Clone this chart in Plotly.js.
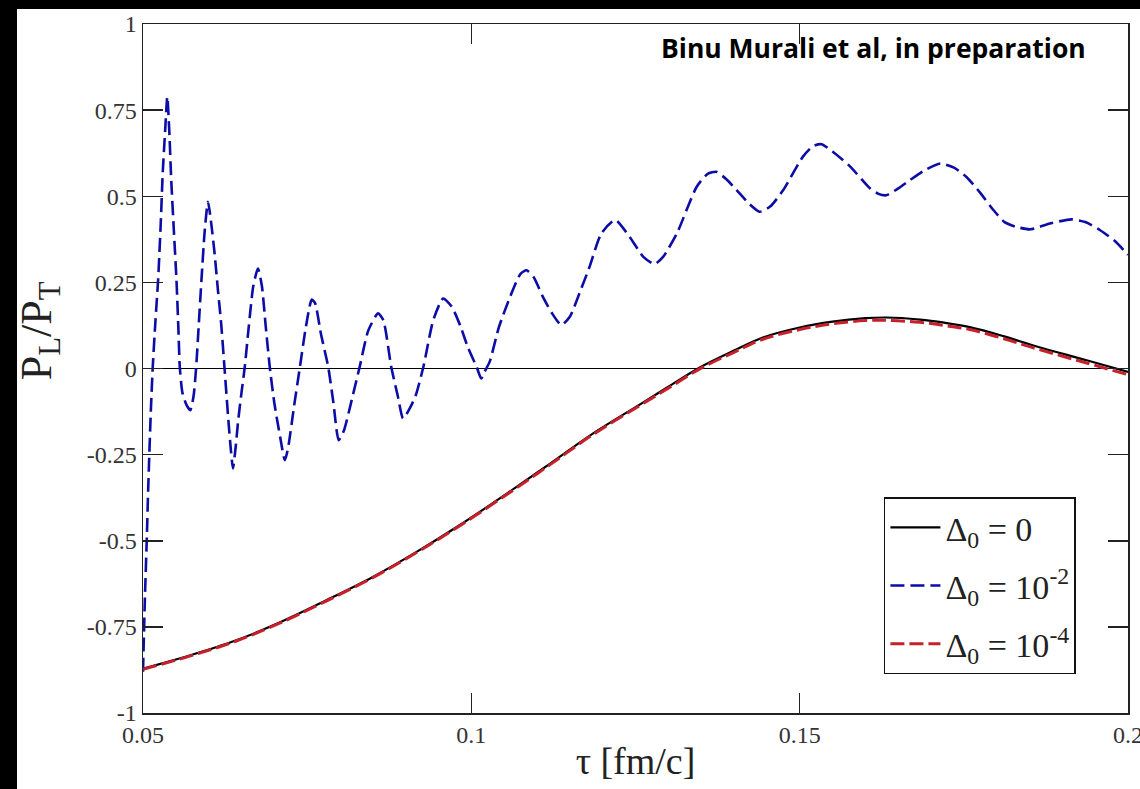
<!DOCTYPE html>
<html><head><meta charset="utf-8">
<script src="https://cdn.plot.ly/plotly-3.0.1.min.js"></script>
<style>html,body{margin:0;padding:0;background:#fff;width:1140px;height:789px;overflow:hidden}
#chart{position:absolute;left:0;top:0;width:1140px;height:789px;background:#fff}
.band{position:absolute;background:#000;z-index:5}
.cover{position:absolute;background:#fff;z-index:4}</style>
</head><body><div id="chart"></div>
<div class="cover" style="left:1130px;top:9px;width:10px;height:708px"></div>
<div class="band" style="left:0;top:0;width:17px;height:789px"></div>
<div class="band" style="left:0;top:0;width:1140px;height:9px"></div>
<script>
// tau values for the smooth curves (Delta0 = 0 and Delta0 = 1e-4)
const tauSmooth = [0.0500,0.0571,0.0642,0.0713,0.0779,0.0850,0.0916,0.0982,0.1054,0.1120,0.1185,0.1257,0.1300,0.1348,0.1400,0.1444,0.1500,0.1550,0.1600,0.1632,0.1683,0.1720,0.1759,0.1810,0.1861,0.1937,0.2000];
const ratioDelta0 = [-0.871,-0.833,-0.789,-0.733,-0.673,-0.605,-0.533,-0.455,-0.363,-0.276,-0.189,-0.104,-0.053,0.003,0.052,0.090,0.119,0.136,0.146,0.148,0.142,0.133,0.120,0.094,0.064,0.024,-0.010];
const ratioDelta4 = [-0.873,-0.835,-0.791,-0.735,-0.675,-0.607,-0.535,-0.457,-0.366,-0.279,-0.192,-0.107,-0.057,-0.001,0.047,0.085,0.113,0.130,0.139,0.140,0.134,0.125,0.113,0.087,0.057,0.016,-0.018];
// tau values and ratio for Delta0 = 1e-2
const tauOsc = [0.0500,0.0503,0.0506,0.0508,0.0512,0.0515,0.0519,0.0523,0.0527,0.0530,0.0534,0.0537,0.0540,0.0543,0.0547,0.0551,0.0554,0.0556,0.0560,0.0566,0.0572,0.0577,0.0581,0.0585,0.0589,0.0594,0.0599,0.0604,0.0609,0.0614,0.0619,0.0624,0.0630,0.0634,0.0637,0.0641,0.0645,0.0650,0.0655,0.0661,0.0668,0.0675,0.0681,0.0687,0.0693,0.0700,0.0709,0.0716,0.0721,0.0730,0.0739,0.0748,0.0757,0.0762,0.0771,0.0782,0.0790,0.0798,0.0806,0.0818,0.0830,0.0843,0.0858,0.0866,0.0878,0.0888,0.0896,0.0905,0.0915,0.0927,0.0942,0.0957,0.0970,0.0984,0.0995,0.1008,0.1015,0.1020,0.1028,0.1042,0.1059,0.1075,0.1084,0.1095,0.1109,0.1123,0.1137,0.1150,0.1165,0.1180,0.1198,0.1219,0.1241,0.1262,0.1279,0.1292,0.1313,0.1343,0.1360,0.1373,0.1388,0.1404,0.1422,0.1439,0.1455,0.1475,0.1505,0.1520,0.1533,0.1550,0.1577,0.1607,0.1620,0.1632,0.1648,0.1668,0.1690,0.1714,0.1735,0.1754,0.1775,0.1795,0.1812,0.1830,0.1851,0.1881,0.1914,0.1935,0.1957,0.1980,0.2000];
const ratioDelta2 = [-0.880,-0.660,-0.480,-0.344,-0.120,0.010,0.140,0.256,0.420,0.566,0.700,0.789,0.690,0.547,0.400,0.256,0.110,0.005,-0.070,-0.105,-0.121,-0.080,0.005,0.130,0.256,0.400,0.484,0.420,0.334,0.230,0.131,0.005,-0.150,-0.240,-0.290,-0.230,-0.150,-0.070,0.005,0.120,0.240,0.290,0.240,0.120,0.005,-0.100,-0.200,-0.266,-0.230,-0.110,0.005,0.120,0.200,0.190,0.100,0.005,-0.100,-0.208,-0.180,-0.090,0.005,0.110,0.160,0.140,0.005,-0.080,-0.145,-0.120,-0.080,0.005,0.140,0.203,0.180,0.120,0.060,0.005,-0.029,-0.010,0.020,0.120,0.208,0.275,0.285,0.265,0.208,0.160,0.126,0.150,0.220,0.295,0.392,0.431,0.382,0.324,0.303,0.324,0.392,0.527,0.565,0.571,0.550,0.518,0.480,0.455,0.470,0.518,0.615,0.645,0.651,0.630,0.586,0.523,0.507,0.503,0.520,0.547,0.575,0.595,0.583,0.556,0.510,0.460,0.425,0.411,0.404,0.421,0.433,0.425,0.402,0.370,0.330];

const seriesNames = ["Δ<sub>0</sub> = 0", "Δ<sub>0</sub> = 10<sup>-2</sup>", "Δ<sub>0</sub> = 10<sup>-4</sup>"];
const yTickVals = [-1,-0.75,-0.5,-0.25,0,0.25,0.5,0.75,1];
const yTickText = ["-1","-0.75","-0.5","-0.25","0","0.25","0.5","0.75","1"];
const xTickVals = [0.05,0.1,0.15,0.2];
const xTickText = ["0.05","0.1","0.15","0.2"];
const xTitle = "τ [fm/c]";
const yTitle = "P<sub>L</sub>/P<sub>T</sub>";
const noteText = "Binu Murali et al, in preparation";

const serif = "Liberation Serif";
const xRange = [0.05, 0.2];
const yRange = [-1, 1];

const traces = [
  {x: tauSmooth, y: ratioDelta0, name: seriesNames[0], legendgroup: "g0", mode: "lines",
   line: {color: "#000000", width: 2.2, shape: "spline", smoothing: 1}},
  {x: tauOsc, y: ratioDelta2, name: seriesNames[1], legendgroup: "g2", mode: "lines",
   line: {color: "#0c0ca6", width: 2.6, dash: "14px,6px", shape: "spline", smoothing: 0.6}},
  {x: tauSmooth, y: ratioDelta4, name: seriesNames[2], legendgroup: "g4", mode: "lines",
   line: {color: "#c8202a", width: 3, dash: "14px,5px", shape: "spline", smoothing: 1}}
];

const layout = {
  width: 1140, height: 789,
  margin: {l: 143, r: 12, t: 24, b: 76},
  paper_bgcolor: "#ffffff", plot_bgcolor: "#ffffff",
  showlegend: true,
  xaxis: {
    range: xRange, tickmode: "array", tickvals: xTickVals, ticktext: xTickText,
    showline: true, linecolor: "#222", linewidth: 1.5, mirror: "ticks",
    ticks: "inside", ticklen: 20, tickwidth: 1.5, tickcolor: "#222",
    showgrid: false, zeroline: false, ticklabeloverflow: "allow",
    tickfont: {family: serif, size: 24, color: "#333"},
    title: {text: xTitle, font: {family: serif, size: 38, color: "#222"}, standoff: 0}
  },
  yaxis: {
    range: yRange, tickmode: "array", tickvals: yTickVals, ticktext: yTickText,
    showline: true, linecolor: "#222", linewidth: 1.5, mirror: "ticks",
    ticks: "inside", ticklen: 20, tickwidth: 1.5, tickcolor: "#222",
    showgrid: false, zeroline: true, zerolinecolor: "#000", zerolinewidth: 1.5,
    tickfont: {family: serif, size: 24, color: "#333"}
  },
  // overlay axes used only to draw the short (minor) ticks
  xaxis2: {
    overlaying: "x", anchor: "y", side: "bottom", range: xRange,
    tickmode: "linear", tick0: 0.05, dtick: 0.025,
    ticks: "inside", ticklen: 10, tickwidth: 1.5, tickcolor: "#222", mirror: "ticks",
    showticklabels: false, showline: false, showgrid: false, zeroline: false
  },
  yaxis2: {
    overlaying: "y", anchor: "x", side: "left", range: yRange,
    tickmode: "linear", tick0: -1, dtick: 0.125,
    ticks: "inside", ticklen: 10, tickwidth: 1.5, tickcolor: "#222", mirror: "ticks",
    showticklabels: false, showline: false, showgrid: false, zeroline: false
  },
  legend: {
    x: 0.7522, y: 0.3132, xanchor: "left", yanchor: "top",
    bgcolor: "#ffffff", bordercolor: "#111", borderwidth: 1.5,
    font: {family: serif, size: 34, color: "#222"},
    itemwidth: 50, tracegroupgap: 11
  },
  annotations: [
    {text: "<b>" + noteText + "</b>", xref: "paper", yref: "paper",
     x: 0.742, y: 0.965, xanchor: "center", yanchor: "middle", showarrow: false,
     font: {family: "Open Sans", size: 26.5, color: "#000"}},
    {text: yTitle, xref: "paper", yref: "paper", textangle: -90,
     x: -0.105, y: 0.555, xanchor: "center", yanchor: "middle", showarrow: false,
     font: {family: serif, size: 44, color: "#222"}}
  ]
};

function fixTickFonts() {
  document.querySelectorAll(".xtick text, .ytick text").forEach(function (t) {
    t.style.fontFamily = '"Liberation Serif"';
    t.style.fontSize = "24px";
    t.style.fill = "#333";
  });
}

const p = Plotly.newPlot("chart", traces, layout, {displayModeBar: false, staticPlot: true});
if (p && p.then) { p.then(fixTickFonts, fixTickFonts); }
fixTickFonts();
setTimeout(fixTickFonts, 50);
</script></body></html>
